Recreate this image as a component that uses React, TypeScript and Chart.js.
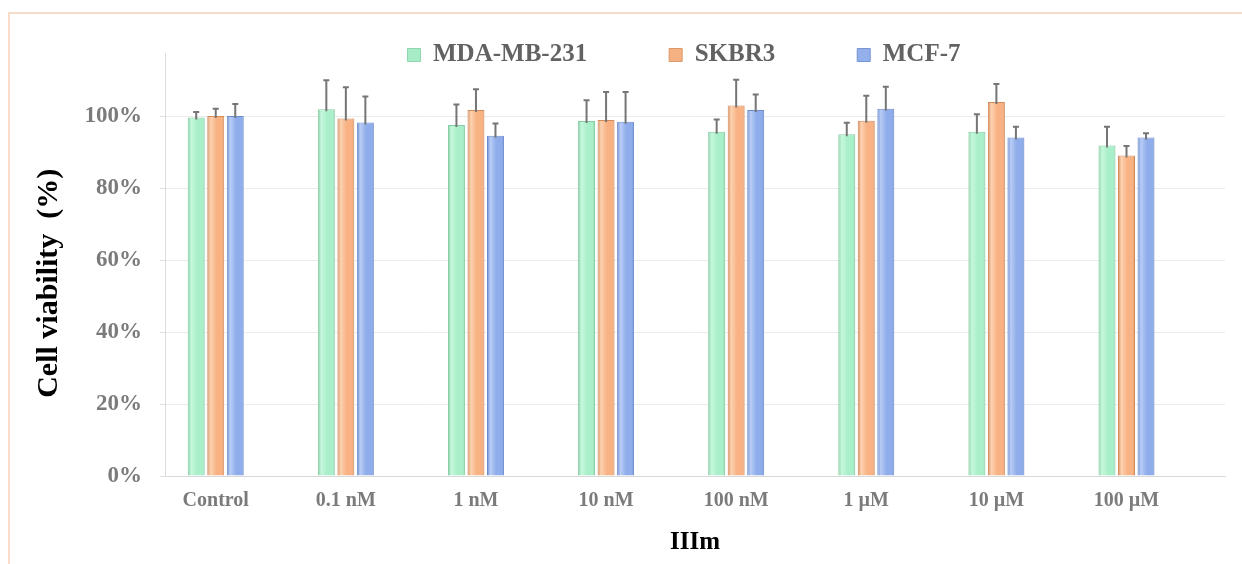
import React, { useEffect, useRef } from 'react';
import { Chart, registerables } from 'chart.js';

Chart.register(...registerables);

// ---- data ----
const categories = ['Control', '0.1 nM', '1 nM', '10 nM', '100 nM', '1 µM', '10 µM', '100 µM'];
const seriesNames = ['MDA-MB-231', 'SKBR3', 'MCF-7'];
const mdaValues = [99.6, 101.9, 97.5, 98.6, 95.6, 94.9, 95.6, 91.8];
const mdaErrors = [1.5, 8.0, 5.7, 5.8, 3.4, 3.2, 4.9, 5.2];
const skbr3Values = [100.0, 99.3, 101.7, 98.9, 102.9, 98.7, 103.9, 89.0];
const skbr3Errors = [2.0, 8.7, 5.7, 7.8, 7.2, 6.9, 5.0, 2.7];
const mcf7Values = [100.0, 98.2, 94.5, 98.4, 101.7, 102.0, 94.0, 94.0];
const mcf7Errors = [3.3, 7.2, 3.4, 8.3, 4.3, 6.1, 3.0, 1.2];
const yAxisMax = 117.5;
const yTickStep = 20;
const xTitle = 'IIIm';
const yTitle = 'Cell viability  (%)';

// ---- style ----
const FONT = "'Liberation Serif', 'Times New Roman', Times, serif";
const CAT_PCT = 0.45;
const BAR_PCT = 0.87;
const X_MIN = -0.39;
const X_MAX = 7.757;
const LEGEND_CENTER_X = 684;
const LEGEND_MID_Y = 55;

const palettes = [
  { dark: '#84cda2', light: '#c6f8dd', mid: '#a9efc9', box: '#a6ecc6', boxEdge: '#8fd6ae' },
  { dark: '#d48c5b', light: '#fdd2b2', mid: '#f8b283', box: '#f5b182', boxEdge: '#dc9866' },
  { dark: '#6b8ccf', light: '#b9cdf6', mid: '#8fadea', box: '#93b0ea', boxEdge: '#7795d6' },
];

const shade = (p: { dark: string; light: string; mid: string }) => (c: any) => {
  if (c.type !== 'data') return p.mid;
  const chart = c.chart;
  const xs = chart.scales && chart.scales.x;
  if (!xs || !chart.chartArea) return p.mid;
  const unit = Math.abs(xs.getPixelForValue(1) - xs.getPixelForValue(0));
  const chunk = (unit * CAT_PCT) / 3;
  const w = chunk * BAR_PCT;
  const cx = xs.getPixelForValue(c.dataIndex) + (c.datasetIndex - 1) * chunk;
  const g = chart.ctx.createLinearGradient(cx - w / 2, 0, cx + w / 2, 0);
  g.addColorStop(0, p.dark);
  g.addColorStop(0.2, p.light);
  g.addColorStop(0.55, p.mid);
  g.addColorStop(0.88, p.mid);
  g.addColorStop(1, p.dark);
  return g;
};

const errorBarPlugin = {
  id: 'errorBars',
  afterDatasetsDraw(chart: any) {
    const { ctx } = chart;
    const y = chart.scales.y;
    ctx.save();
    ctx.strokeStyle = '#757575';
    ctx.lineWidth = 2;
    chart.data.datasets.forEach((ds: any, di: number) => {
      const meta = chart.getDatasetMeta(di);
      meta.data.forEach((bar: any, i: number) => {
        const v = ds.data[i].y;
        const e = ds.errors[i];
        const top = y.getPixelForValue(v + e);
        ctx.beginPath();
        ctx.moveTo(bar.x, bar.y + 2);
        ctx.lineTo(bar.x, top);
        ctx.moveTo(bar.x - 3, top);
        ctx.lineTo(bar.x + 3, top);
        ctx.stroke();
      });
    });
    ctx.restore();
  },
};

const legendPlacePlugin = {
  id: 'legendPlace',
  afterLayout(chart: any) {
    const lg = chart.legend;
    if (!lg) return;
    const lo = chart.options.plugins.legend.labels;
    const pad = lo.padding;
    const fs = lo.font.size;
    const w = lg.right - lg.left;
    lg.left = LEGEND_CENTER_X - w / 2;
    lg.right = LEGEND_CENTER_X + w / 2;
    lg.top = LEGEND_MID_Y - pad - fs / 2;
    lg.bottom = lg.top + pad * 2 + fs + 10;
  },
};

export default function App() {
  const ref = useRef<HTMLCanvasElement | null>(null);

  useEffect(() => {
    if (!ref.current) return;
    const values = [mdaValues, skbr3Values, mcf7Values];
    const errors = [mdaErrors, skbr3Errors, mcf7Errors];
    const chart = new Chart(ref.current, {
      type: 'bar',
      data: {
        datasets: seriesNames.map((name, si) => ({
          label: name,
          data: values[si].map((v, i) => ({ x: i, y: v })),
          errors: errors[si],
          backgroundColor: shade(palettes[si]),
          borderColor: palettes[si].dark,
          borderWidth: { left: 1, right: 1, top: 1, bottom: 0 },
          borderSkipped: 'bottom',
          categoryPercentage: CAT_PCT,
          barPercentage: BAR_PCT,
        })) as any,
      },
      options: {
        animation: false,
        responsive: false,
        events: [],
        layout: { padding: { top: 0, right: 17, bottom: 0, left: 0 } },
        plugins: {
          tooltip: { enabled: false },
          legend: {
            position: 'top',
            maxHeight: 53,
            labels: {
              boxWidth: 13,
              boxHeight: 13,
              padding: 82,
              color: '#626262',
              font: { family: FONT, size: 25, weight: 'bold' },
              generateLabels: (ch: any) =>
                ch.data.datasets.map((ds: any, i: number) => ({
                  text: ds.label,
                  fillStyle: palettes[i].box,
                  strokeStyle: palettes[i].boxEdge,
                  lineWidth: 1,
                  fontColor: '#626262',
                  hidden: false,
                  datasetIndex: i,
                })),
            },
          },
        },
        scales: {
          x: {
            type: 'linear',
            min: X_MIN,
            max: X_MAX,
            offset: false,
            grid: { display: false, drawTicks: false, offset: false },
            border: { display: true, color: '#d9d9d9', width: 1 },
            ticks: {
              stepSize: 1,
              includeBounds: false,
              autoSkip: false,
              maxRotation: 0,
              padding: 13,
              color: '#7b7b7b',
              font: { family: FONT, size: 20, weight: 'bold' },
              callback: (v: any) => {
                const k = Math.round(Number(v));
                return Math.abs(k - Number(v)) < 1e-6 && categories[k] ? categories[k] : '';
              },
            },
            title: {
              display: true,
              text: xTitle,
              color: '#000000',
              padding: { top: 0, bottom: 6 },
              font: { family: FONT, size: 25, weight: 'bold' },
            },
            afterFit: (s: any) => {
              s.height = 88;
            },
          },
          y: {
            min: 0,
            max: yAxisMax,
            grid: { color: '#ececec', lineWidth: 1, drawTicks: true, tickLength: 5, tickColor: '#e0e0e0' },
            border: { display: true, color: '#dcdcdc', width: 1 },
            ticks: {
              stepSize: yTickStep,
              includeBounds: false,
              padding: 18,
              color: '#7b7b7b',
              font: { family: FONT, size: 23, weight: 'bold' },
              callback: (v: any) => `${v}%`,
            },
            title: {
              display: true,
              text: yTitle + '     ',
              color: '#000000',
              padding: { top: 31, bottom: 0 },
              font: { family: FONT, size: 30, weight: 'bold' },
            },
            afterFit: (s: any) => {
              s.width = 165;
            },
          },
        },
      } as any,
      plugins: [errorBarPlugin, legendPlacePlugin],
    });
    return () => chart.destroy();
  }, []);

  return (
    <div style={{ position: 'fixed', left: 0, top: 0, width: 1242, height: 564, overflow: 'hidden', background: '#ffffff' }}>
      <div
        style={{
          position: 'absolute',
          left: 8,
          top: 12,
          width: 1400,
          height: 800,
          border: '2px solid #f8dcc9',
          boxSizing: 'border-box',
        }}
      />
      <canvas ref={ref} width={1242} height={564} style={{ position: 'absolute', left: 0, top: 0 }} />
    </div>
  );
}
